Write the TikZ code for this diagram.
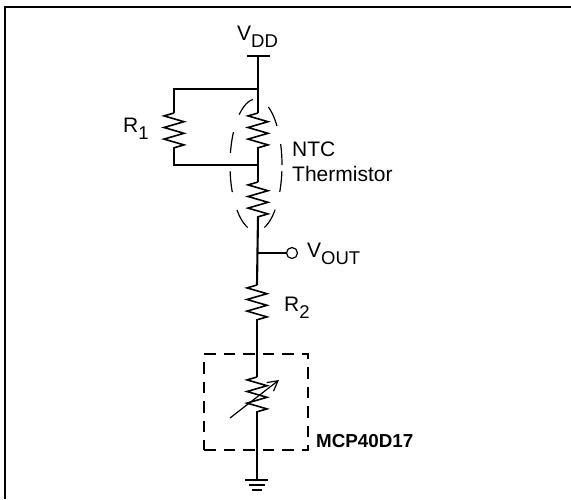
\documentclass[tikz,border=0pt]{standalone}
\usepackage{fontspec}
\setmainfont{Liberation Sans}
\usetikzlibrary{shapes.geometric,decorations.pathmorphing,arrows.meta}
\newcommand{\lowtext}[1]{\raisebox{-0.36em}{\fontsize{18.5}{19}\selectfont #1}}
\begin{document}
\begin{tikzpicture}[
      x=1pt,y=-1pt,
      wire/.style={line width=2.1pt},
      thinwire/.style={line width=1.2pt},
      frame/.style={line width=2.4pt},
      zigzagres/.style={line width=1.6pt,
                        decorate,
                        decoration={zigzag,
                                    mirror,
                                    segment length=11.6pt,
                                    amplitude=10pt}},
      label/.style={anchor=base west,
                    inner sep=0pt,
                    font=\fontsize{21}{25}\selectfont},
      boldlabel/.style={anchor=base west,
                        inner sep=0pt,
                        font=\fontsize{18.8}{23}\selectfont\bfseries},
      multilabel/.style={label,
                         anchor=north west,
                         align=left},
      tap/.style={circle,
                  draw,
                  line width=1.2pt,
                  inner sep=0pt,
                  minimum size=11pt},
      lens/.style={ellipse,
                   draw,
                   line width=1.2pt,
                   inner sep=0pt,
                   minimum width=52pt,
                   minimum height=132pt,
                   dash pattern=on 21pt off 18.4pt},
      dashbox/.style={rectangle,
                      draw,
                      line width=1.6pt,
                      inner sep=0pt,
                      minimum width=104pt,
                      minimum height=96pt,
                      dash pattern=on 11.5pt off 8pt}
    ]

    \useasboundingbox (0,0) rectangle (571,499);

    \draw [frame] (5,499) -- (5,7) -- (571,7);

    \coordinate (vdd) at (258,56);
    \coordinate (vddl) at (247,56);
    \coordinate (vddr) at (270,56);
    \coordinate (top) at (258,89);
    \coordinate (topl) at (174,89);
    \coordinate (mid) at (258,165);
    \coordinate (midl) at (174,165);
    \coordinate (ra) at (174,113);
    \coordinate (rb) at (174,148);
    \coordinate (nta) at (258,113);
    \coordinate (ntb) at (258,148);
    \coordinate (ntc) at (258,182);
    \coordinate (ntd) at (258,217);
    \coordinate (out) at (257,253);
    \coordinate (rc) at (257,285);
    \coordinate (rd) at (257,320);
    \coordinate (pa) at (257,377);
    \coordinate (pb) at (257,412);
    \coordinate (gnd) at (257,480);
    \coordinate (gla) at (245,480);
    \coordinate (gra) at (268,480);
    \coordinate (glb) at (249,485);
    \coordinate (grb) at (265,485);
    \coordinate (glc) at (252,490);
    \coordinate (grc) at (262,490);
    \coordinate (tail) at (230,418);
    \coordinate (head) at (279,380);

    \node[lens] (thermistor) at (256,165) {};
    \node[dashbox] (pot) at (256,402) {};
    \node[tap] (tapout) at (292,253) {};

    \node[label] (vddtext) at (237,40) {V\lowtext{DD}};
    \node[label] (rone) at (123,132) {R\lowtext{1}};
    \node[label] (rtwo) at (284,311) {R\lowtext{2}};
    \node[label] (vouttext) at (307,257) {V\lowtext{OUT}};
    \node[multilabel] (ntctext) at (292,142) {NTC\\Thermistor};
    \node[boldlabel] (mcp) at (316,447) {MCP40D17};

    \draw [wire] (vddl) -- (vddr);
    \draw [wire] (vdd) -- (top) -- (nta);
    \draw [wire] (top) -- (topl) -- (ra);
    \draw [wire] (rb) -- (midl) -- (mid);
    \draw [wire] (ntb) -- (ntc);
    \draw [wire] (ntd) -- (rc);
    \draw [wire] (out) -- (tapout);
    \draw [thinwire] (rd) -- (pa);
    \draw [wire] (pb) -- (gnd);
    \draw [wire] (gla) -- (gra);
    \draw [wire] (glb) -- (grb);
    \draw [wire] (glc) -- (grc);

    \draw [zigzagres] (ra) -- (rb);
    \draw [zigzagres] (nta) -- (ntb);
    \draw [zigzagres] (ntc) -- (ntd);
    \draw [zigzagres] (rc) -- (rd);
    \draw [zigzagres] (pa) -- (pb);

    \draw [thinwire,-{Straight Barb[length=10pt,width=11pt]}] (tail) -- (head);

\end{tikzpicture}
\end{document}
